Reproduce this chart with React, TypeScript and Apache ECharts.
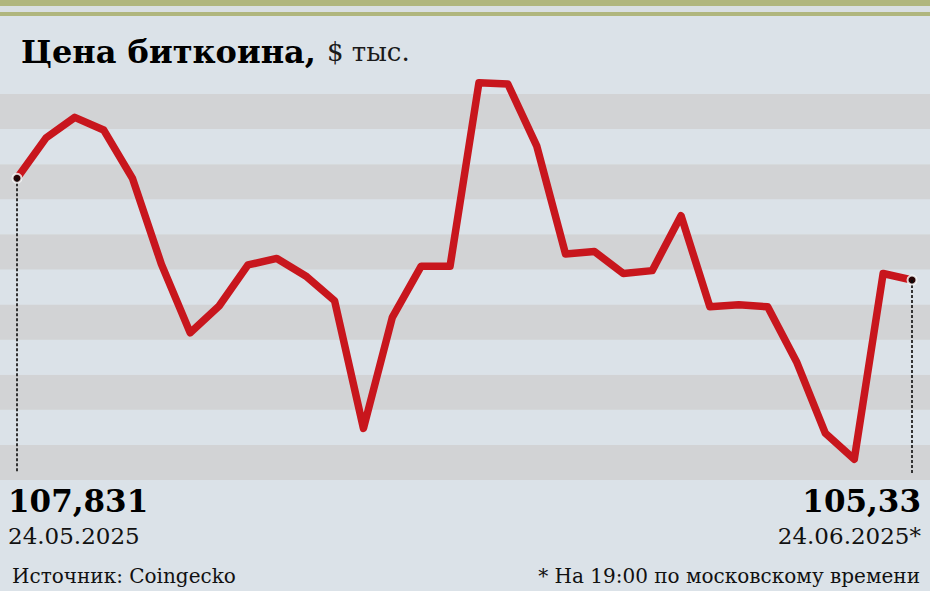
import React, { useEffect, useRef } from "react";
import * as echarts from "echarts";

const dates = [
  "24.05", "25.05", "26.05", "27.05", "28.05", "29.05", "30.05", "31.05",
  "01.06", "02.06", "03.06", "04.06", "05.06", "06.06", "07.06", "08.06",
  "09.06", "10.06", "11.06", "12.06", "13.06", "14.06", "15.06", "16.06",
  "17.06", "18.06", "19.06", "20.06", "21.06", "22.06", "23.06", "24.06",
];

const prices = [
  107.831, 108.82, 109.33, 109.02, 107.83, 105.72, 104.03, 104.69,
  105.7, 105.86, 105.43, 104.82, 101.68, 104.41, 105.67, 105.67,
  110.18, 110.15, 108.63, 105.97, 106.03, 105.49, 105.56, 106.91,
  104.67, 104.72, 104.67, 103.32, 101.56, 100.92, 105.49, 105.33,
];

const titleMain = "Цена биткоина,";
const titleUnit = "$ тыс.";
const startValueLabel = "107,831";
const startDateLabel = "24.05.2025";
const endValueLabel = "105,33";
const endDateLabel = "24.06.2025*";
const sourceLabel = "Источник: Coingecko";
const noteLabel = "* На 19:00 по московскому времени";

const Y_MIN = 100.411;
const Y_MAX = 109.904;
const DASH_END = 100.58;
const STRIPES = 11;

const BG = "#dbe2e8";
const STRIPE = "#d2d3d5";
const GREEN = "#b0b67e";
const RED = "#c8161d";
const SERIF = "'DejaVu Serif', serif";

export default function App() {
  const ref = useRef<HTMLDivElement>(null);

  useEffect(() => {
    document.body.style.margin = "0";
    if (!ref.current) return;
    const chart = echarts.init(ref.current, null, { renderer: "svg" });
    const last = prices.length - 1;

    chart.setOption({
      animation: false,
      backgroundColor: BG,
      grid: [
        { left: 17, right: 18, top: 94, bottom: 111 },
        { left: 0, right: 0, top: 94, bottom: 111 },
      ],
      xAxis: [
        { type: "category", data: dates, boundaryGap: false, show: false, gridIndex: 0 },
        { type: "value", min: 0, max: 1, show: false, gridIndex: 1 },
      ],
      yAxis: [
        { type: "value", min: Y_MIN, max: Y_MAX, show: false, gridIndex: 0 },
        {
          type: "value",
          gridIndex: 1,
          min: 0,
          max: STRIPES,
          interval: 1,
          axisLine: { show: false },
          axisTick: { show: false },
          axisLabel: { show: false },
          splitLine: { show: false },
          splitArea: { show: true, areaStyle: { color: [STRIPE, BG] } },
        },
      ],
      series: [
        {
          type: "line",
          xAxisIndex: 0,
          yAxisIndex: 0,
          data: prices,
          showSymbol: false,
          symbol: "none",
          clip: false,
          z: 3,
          lineStyle: { color: RED, width: 7.5, join: "round", cap: "round" },
          markLine: {
            silent: true,
            symbol: ["none", "none"],
            label: { show: false },
            lineStyle: { color: "#333", width: 2, type: [3, 2] },
            data: [
              [
                { coord: [dates[0], prices[0]] },
                { coord: [dates[0], DASH_END] },
              ],
              [
                { coord: [dates[last], prices[last]] },
                { coord: [dates[last], DASH_END] },
              ],
            ],
          },
        },
        {
          type: "scatter",
          xAxisIndex: 0,
          yAxisIndex: 0,
          data: [
            [dates[0], prices[0]],
            [dates[last], prices[last]],
          ],
          symbolSize: 9,
          clip: false,
          z: 5,
          itemStyle: { color: "#000", borderColor: "#fff", borderWidth: 2 },
        },
      ],
      graphic: [
        { type: "rect", left: 0, top: 0, shape: { width: 930, height: 6 }, style: { fill: GREEN } },
        { type: "rect", left: 0, top: 6, shape: { width: 930, height: 6 }, style: { fill: "#d9dfe2" } },
        { type: "rect", left: 0, top: 12, shape: { width: 930, height: 4 }, style: { fill: GREEN } },
        {
          type: "text",
          x: 21,
          y: 68,
          style: {
            text: `{b|${titleMain}}{s| }{r|${titleUnit}}`,
            verticalAlign: "bottom",
            rich: {
              b: { fontFamily: SERIF, fontWeight: "bold", fontSize: 32, fill: "#000" },
              s: { fontFamily: SERIF, fontSize: 26, width: 11 },
              r: { fontFamily: SERIF, fontSize: 26, fill: "#1a1a1a" },
            },
          },
        },
        {
          type: "text",
          x: 8,
          y: 516,
          style: { text: startValueLabel, fontFamily: SERIF, fontWeight: "bold", fontSize: 31, fill: "#000", verticalAlign: "bottom" },
        },
        {
          type: "text",
          x: 8,
          y: 547,
          style: { text: startDateLabel, fontFamily: SERIF, fontSize: 23, fill: "#111", verticalAlign: "bottom" },
        },
        {
          type: "text",
          x: 921,
          y: 516,
          style: { text: endValueLabel, fontFamily: SERIF, fontWeight: "bold", fontSize: 31, fill: "#000", align: "right", verticalAlign: "bottom" },
        },
        {
          type: "text",
          x: 921,
          y: 547,
          style: { text: endDateLabel, fontFamily: SERIF, fontSize: 23, fill: "#111", align: "right", verticalAlign: "bottom" },
        },
        {
          type: "text",
          x: 12,
          y: 586,
          style: { text: sourceLabel, fontFamily: SERIF, fontSize: 20, fill: "#111", verticalAlign: "bottom" },
        },
        {
          type: "text",
          x: 920,
          y: 586,
          style: { text: noteLabel, fontFamily: SERIF, fontSize: 20, fill: "#111", align: "right", verticalAlign: "bottom" },
        },
      ],
    });

    return () => chart.dispose();
  }, []);

  return <div ref={ref} style={{ width: 930, height: 591 }} />;
}
